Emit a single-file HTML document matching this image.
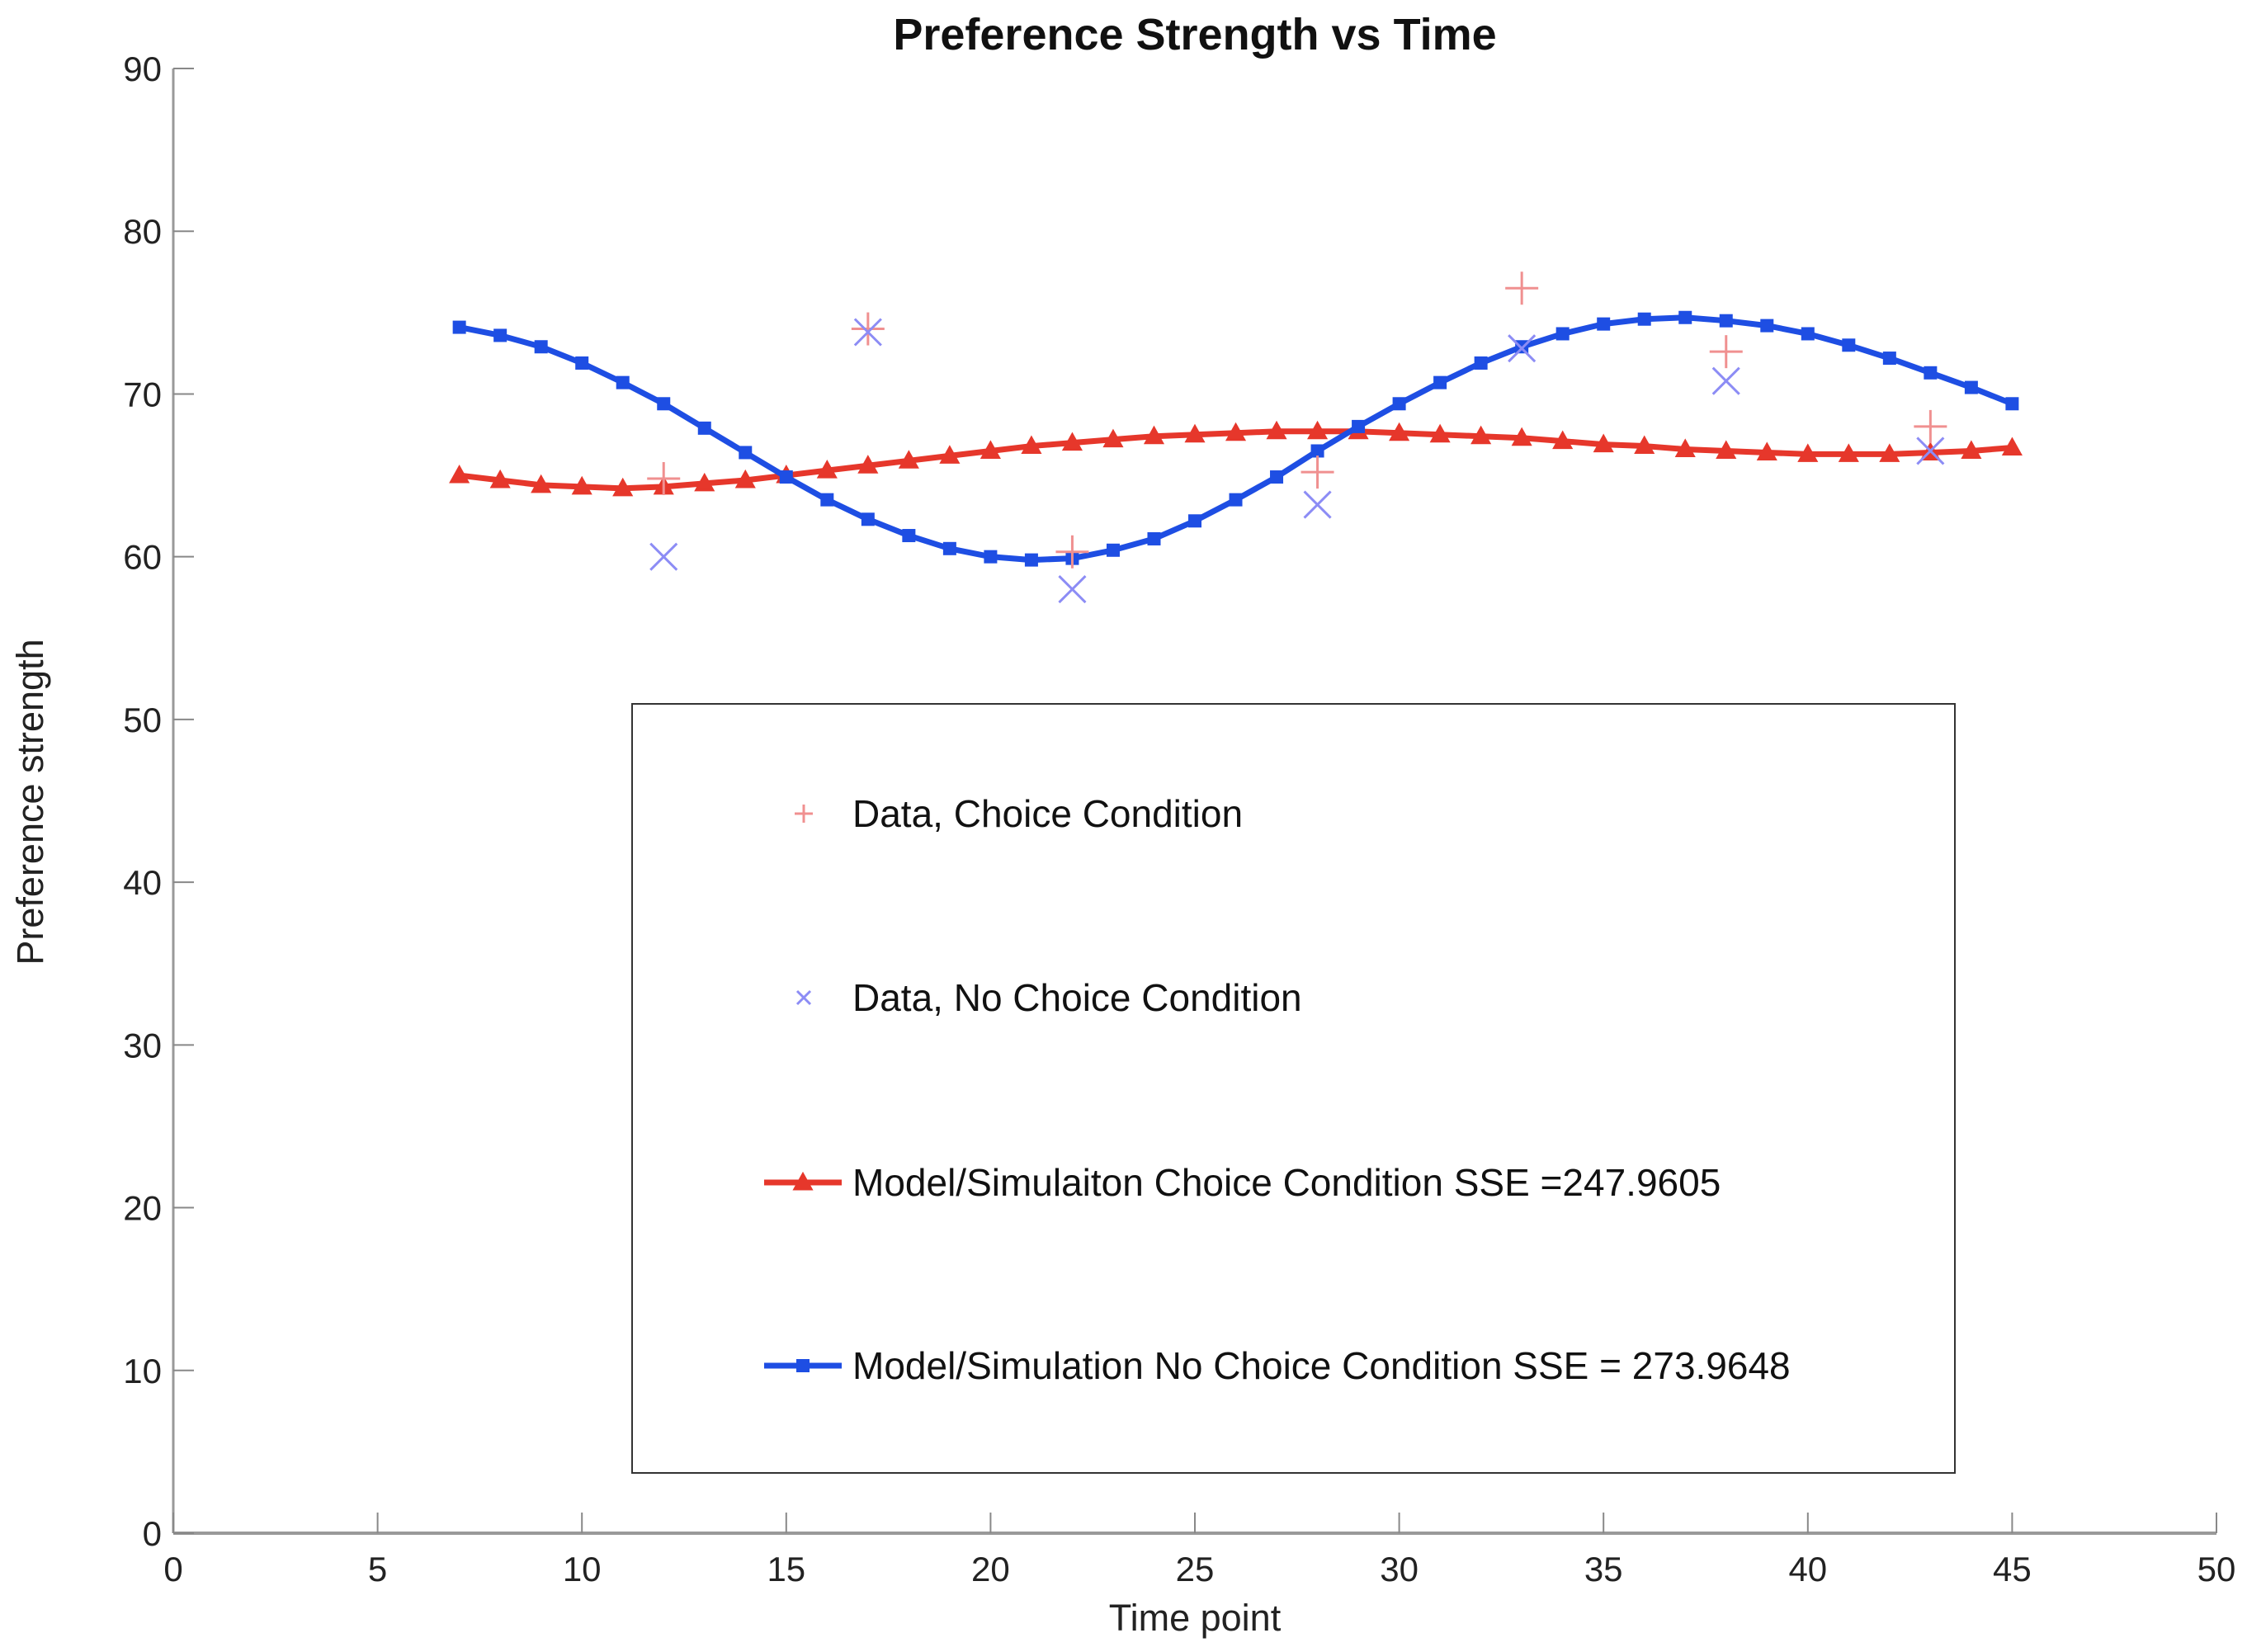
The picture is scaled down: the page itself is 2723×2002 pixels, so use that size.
<!DOCTYPE html>
<html><head><meta charset="utf-8"><style>
html,body{margin:0;padding:0;background:#fff;}
svg{display:block;font-family:"Liberation Sans",Arial,sans-serif;}
</style></head><body>
<svg id="chart" width="2723" height="2002" viewBox="0 0 2723 2002">
<text x="1448" y="60" text-anchor="middle" font-size="54" font-weight="bold" fill="#111">Preference Strength vs Time</text>
<text x="0" y="0" transform="translate(52,972) rotate(-90)" text-anchor="middle" font-size="45" fill="#222">Preference strength</text>
<text x="1448" y="1976" text-anchor="middle" font-size="45" fill="#222">Time point</text>
<g id="axes"></g>
<g id="marks"></g>
<rect x="766" y="853" width="1603" height="932" fill="#fff" stroke="#333" stroke-width="2"/>
<g id="legend"></g>
</svg>
<script>
const xTicks=[0,5,10,15,20,25,30,35,40,45,50];
const yTicks=[0,10,20,30,40,50,60,70,80,90];
const modelT=[7,8,9,10,11,12,13,14,15,16,17,18,19,20,21,22,23,24,25,26,27,28,29,30,31,32,33,34,35,36,37,38,39,40,41,42,43,44,45];
const modelChoice=[65.0,64.7,64.4,64.3,64.2,64.3,64.5,64.7,65.0,65.3,65.6,65.9,66.2,66.5,66.8,67.0,67.2,67.4,67.5,67.6,67.7,67.7,67.7,67.6,67.5,67.4,67.3,67.1,66.9,66.8,66.6,66.5,66.4,66.3,66.3,66.3,66.4,66.5,66.7];
const modelNoChoice=[74.1,73.6,72.9,71.9,70.7,69.4,67.9,66.4,64.9,63.5,62.3,61.3,60.5,60.0,59.8,59.9,60.4,61.1,62.2,63.5,64.9,66.5,68.0,69.4,70.7,71.9,72.9,73.7,74.3,74.6,74.7,74.5,74.2,73.7,73.0,72.2,71.3,70.4,69.4];
const dataT=[12,17,22,28,33,38,43];
const dataChoice=[64.8,74.0,60.3,65.2,76.5,72.6,68.0];
const dataNoChoice=[60.0,73.8,58.0,63.2,72.8,70.8,66.5];

const NS="http://www.w3.org/2000/svg";
const X0=210,X1=2686,Y0=1858,Y1=83;
const sx=v=>X0+(v-0)/(50-0)*(X1-X0);
const sy=v=>Y0-(v-0)/(90-0)*(Y0-Y1);
function mk(tag,attrs,parent){const e=document.createElementNS(NS,tag);for(const k in attrs)e.setAttribute(k,attrs[k]);parent.appendChild(e);return e;}
const axes=document.getElementById('axes'),marks=document.getElementById('marks'),legend=document.getElementById('legend');

let e=mk('line',{x1:X0,y1:Y0,x2:X1,y2:Y0,stroke:'#999','stroke-width':4},axes);


e=mk('line',{x1:X0,y1:Y0,x2:X0,y2:Y1,stroke:'#999','stroke-width':3},axes);


xTicks.forEach(t=>{
  const l=mk('line',{x1:sx(t),y1:Y0,x2:sx(t),y2:Y0-25,stroke:'#888','stroke-width':2},axes);
  
  
  const tx=mk('text',{x:sx(t),y:Y0+58,'text-anchor':'middle','font-size':42,fill:'#222'},axes);
  tx.textContent=t;
  
  
});
yTicks.forEach(t=>{
  const l=mk('line',{x1:X0,y1:sy(t),x2:X0+25,y2:sy(t),stroke:'#888','stroke-width':2},axes);
  
  
  const tx=mk('text',{x:X0-14,y:sy(t)+15,'text-anchor':'end','font-size':42,fill:'#222'},axes);
  tx.textContent=t;
  
  
});

const RED='#e6372b',BLUE='#1e4ee3',PINK='#f09090',LBLUE='#8c8cf5';
function tri(x,y,c,p){return mk('polygon',{points:`${x},${y-10} ${x+10},${y+8} ${x-10},${y+8}`,fill:c,stroke:c,'stroke-width':3},p);}
function sq(x,y,c,p){return mk('rect',{x:x-8,y:y-8,width:16,height:16,fill:c},p);}
function plus(x,y,c,p){const g=mk('g',{stroke:c,'stroke-width':3},p);mk('line',{x1:x-20,y1:y,x2:x+20,y2:y},g);mk('line',{x1:x,y1:y-20,x2:x,y2:y+20},g);return g;}
function cross(x,y,c,p){const g=mk('g',{stroke:c,'stroke-width':3},p);mk('line',{x1:x-16,y1:y-16,x2:x+16,y2:y+16},g);mk('line',{x1:x-16,y1:y+16,x2:x+16,y2:y-16},g);return g;}

function series(vals,color,name,markFn){
  const pts=modelT.map((t,i)=>sx(t)+','+sy(vals[i])).join(' ');
  const pl=mk('polyline',{points:pts,fill:'none',stroke:color,'stroke-width':7,'stroke-linejoin':'round'},marks);
  
  
  modelT.forEach((t,i)=>{
    const m=markFn(sx(t),sy(vals[i]),color,marks);
    
    
  });
}
series(modelChoice,RED,'model-choice',tri);
series(modelNoChoice,BLUE,'model-no-choice',sq);
dataT.forEach((t,i)=>{
  const m=plus(sx(t),sy(dataChoice[i]),PINK,marks);
  
  
});
dataT.forEach((t,i)=>{
  const m=cross(sx(t),sy(dataNoChoice[i]),LBLUE,marks);
  
  
});

const legItems=[
 {y:986,label:'Data, Choice Condition',kind:'plus',c:PINK,n:'legend-data-choice'},
 {y:1209,label:'Data, No Choice Condition',kind:'cross',c:LBLUE,n:'legend-data-no-choice'},
 {y:1433,label:'Model/Simulaiton Choice Condition SSE =247.9605',kind:'tri',c:RED,n:'legend-model-choice'},
 {y:1655,label:'Model/Simulation No Choice Condition SSE = 273.9648',kind:'sq',c:BLUE,n:'legend-model-no-choice'}
];
legItems.forEach(it=>{
  const g=mk('g',{},legend);
  
  
  if(it.kind==='plus'){const m=mk('g',{stroke:it.c,'stroke-width':3},g);mk('line',{x1:963,y1:it.y,x2:985,y2:it.y},m);mk('line',{x1:974,y1:it.y-11,x2:974,y2:it.y+11},m);}
  else if(it.kind==='cross'){const m=mk('g',{stroke:it.c,'stroke-width':3},g);mk('line',{x1:966,y1:it.y-8,x2:982,y2:it.y+8},m);mk('line',{x1:966,y1:it.y+8,x2:982,y2:it.y-8},m);}
  else{mk('line',{x1:926,y1:it.y,x2:1020,y2:it.y,stroke:it.c,'stroke-width':7},g);
    if(it.kind==='tri')tri(973,it.y,it.c,g);else sq(973,it.y,it.c,g);}
  const tx=mk('text',{x:1033,y:it.y+16,'font-size':46,fill:'#111'},g);
  tx.textContent=it.label;
});
</script>
</body></html>
